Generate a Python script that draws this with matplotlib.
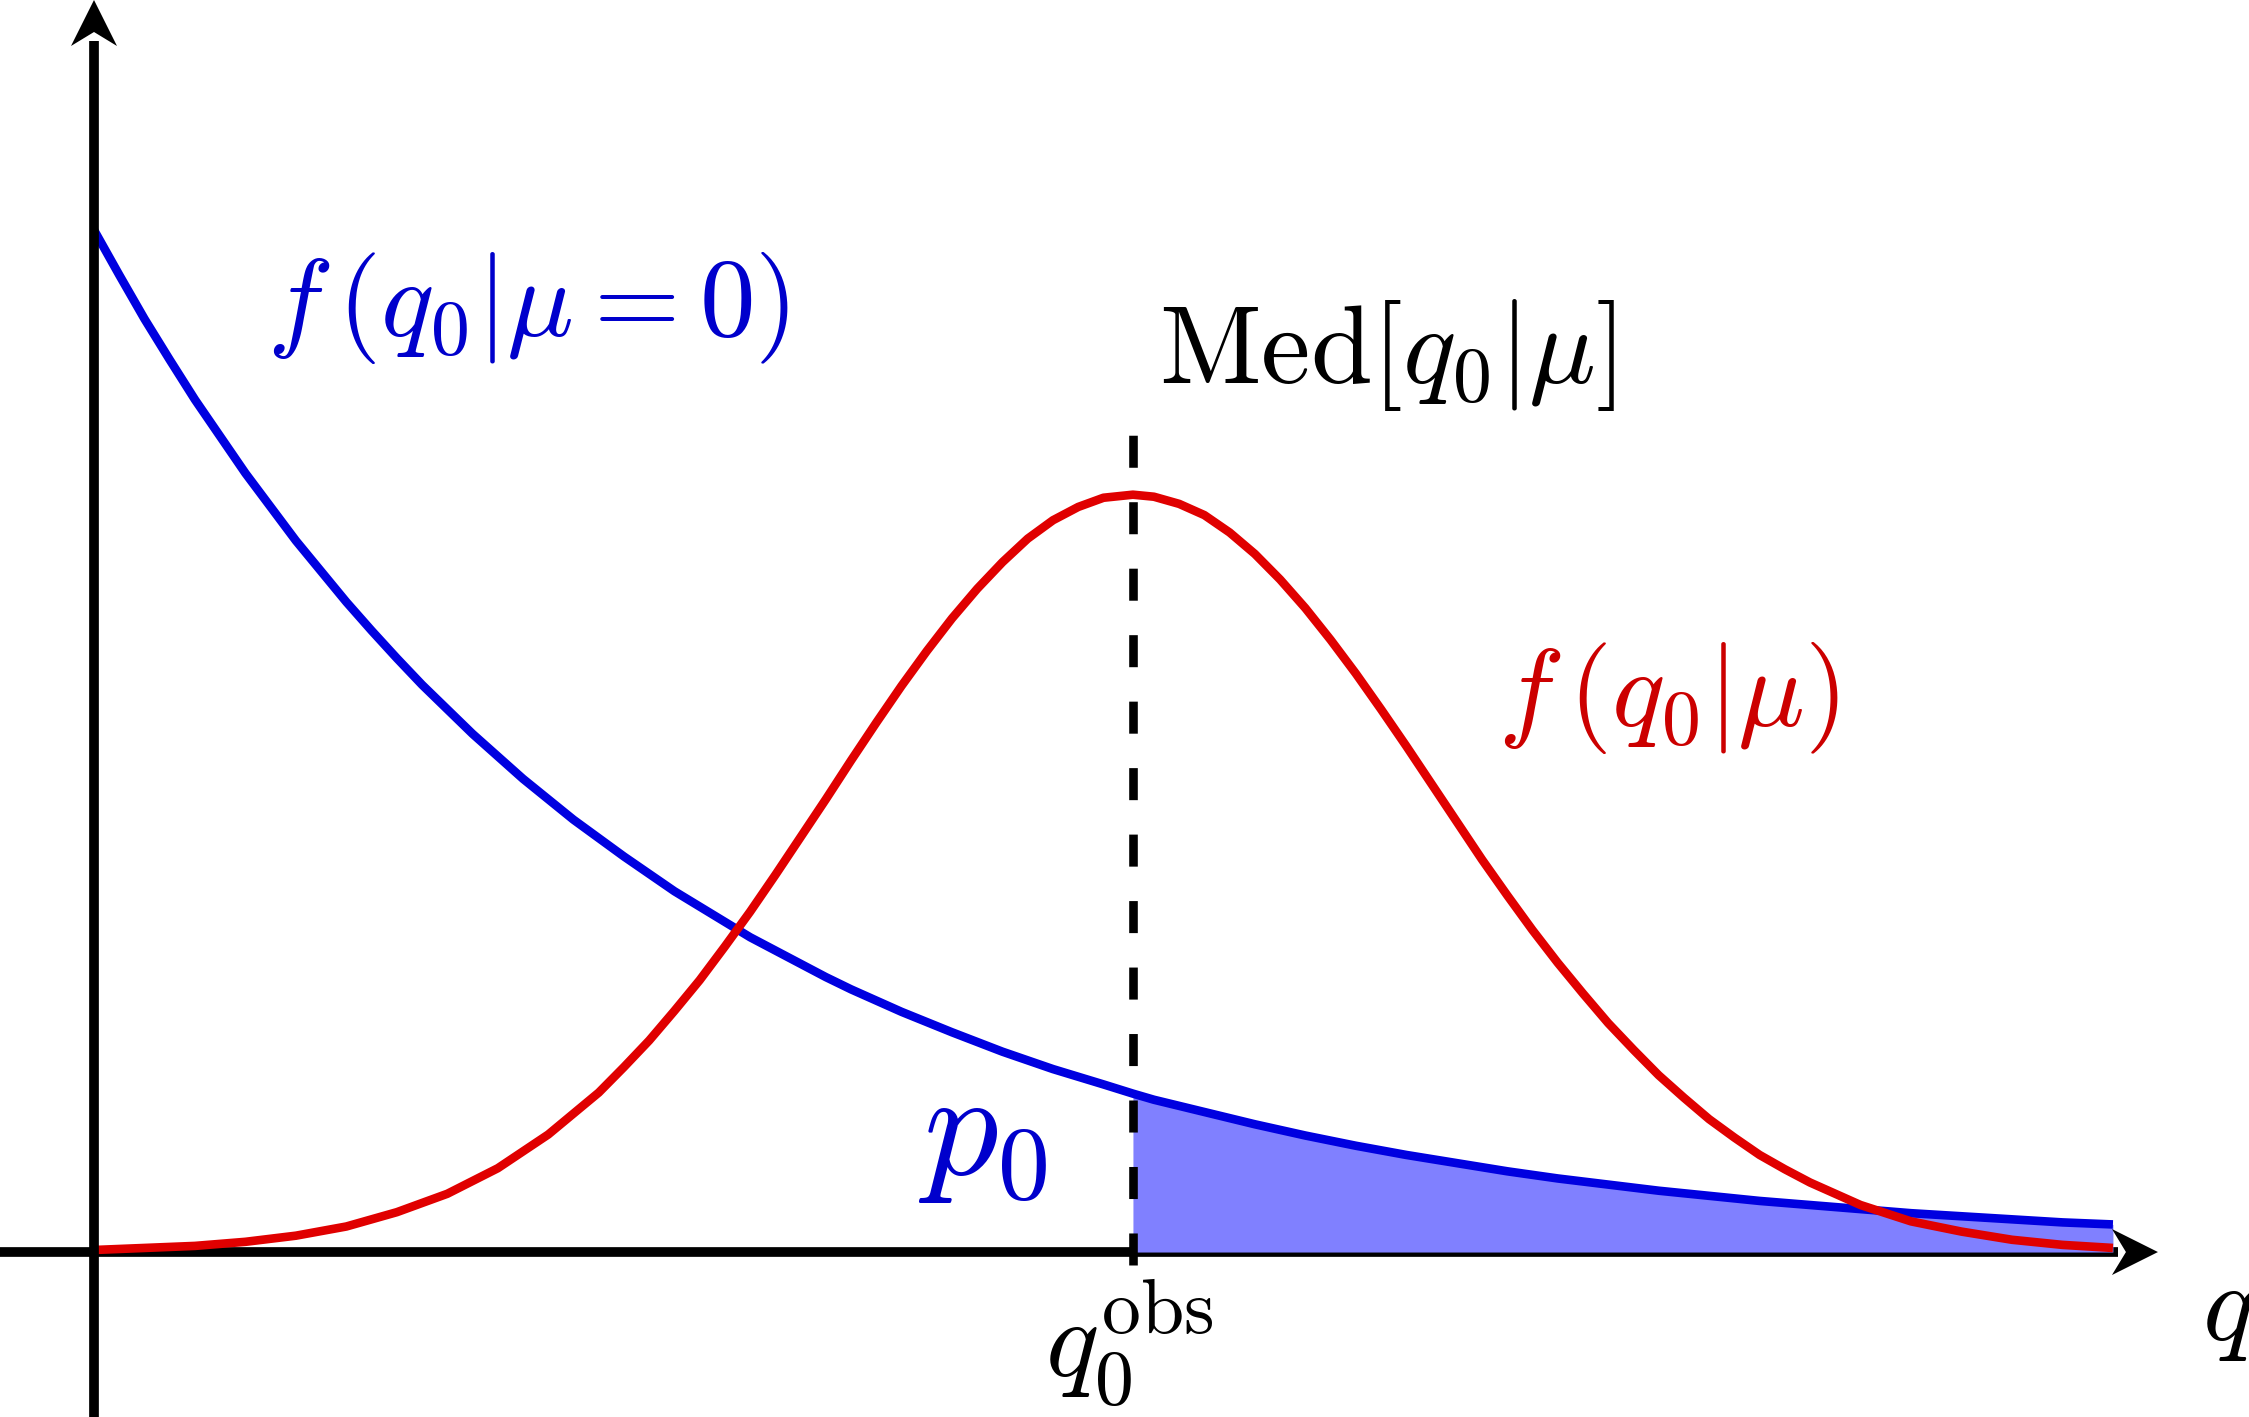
# ---------------------------------------------------------------------------- #
# NEEDED IMPORTS

import matplotlib
matplotlib.use("Agg")
import matplotlib.pyplot as plt
import matplotlib.transforms as mtransforms
from matplotlib.patches import Polygon
import numpy as np

# ---------------------------------------------------------------------------- #
# DATA (q in [0, 10], f normalised to 1 at q = 0)

q0_obs = 5.146

# Blue curve, f(q0 | mu = 0)
blue_q = [0.0, 0.125, 0.25, 0.375, 0.5, 0.625, 0.75, 0.875, 1.0, 1.125, 1.25,
          1.375, 1.5, 1.625, 1.75, 1.875, 2.0, 2.125, 2.25, 2.375, 2.5, 2.625,
          2.75, 2.875, 3.0, 3.125, 3.25, 3.375, 3.5, 3.625, 3.75, 3.875, 4.0,
          4.25, 4.5, 4.75, 5.0, 5.146, 5.25, 5.5, 5.75, 6.0, 6.25, 6.5, 6.75,
          7.0, 7.25, 7.5, 7.75, 8.0, 8.25, 8.5, 8.75, 9.0, 9.25, 9.5, 9.75,
          10.0]
blue_f = [1.000, 0.956, 0.913, 0.873, 0.834, 0.798, 0.762, 0.729, 0.696,
          0.666, 0.636, 0.608, 0.581, 0.555, 0.531, 0.507, 0.485, 0.463,
          0.443, 0.423, 0.405, 0.387, 0.370, 0.353, 0.338, 0.323, 0.308,
          0.295, 0.282, 0.269, 0.257, 0.246, 0.235, 0.215, 0.196, 0.179,
          0.164, 0.155, 0.149, 0.137, 0.125, 0.114, 0.104, 0.095, 0.087,
          0.079, 0.072, 0.066, 0.060, 0.055, 0.050, 0.046, 0.042, 0.038,
          0.035, 0.032, 0.029, 0.027]

# Red curve, f(q0 | mu)
red_q = [0.0, 0.25, 0.5, 0.75, 1.0, 1.25, 1.5, 1.75, 2.0, 2.25, 2.5, 2.625,
         2.75, 2.875, 3.0, 3.125, 3.25, 3.375, 3.5, 3.625, 3.75, 3.875, 4.0,
         4.125, 4.25, 4.375, 4.5, 4.625, 4.75, 4.875, 5.0, 5.146, 5.25, 5.375,
         5.5, 5.625, 5.75, 5.875, 6.0, 6.125, 6.25, 6.375, 6.5, 6.625, 6.75,
         6.875, 7.0, 7.125, 7.25, 7.375, 7.5, 7.625, 7.75, 7.875, 8.0, 8.125,
         8.25, 8.375, 8.5, 8.75, 9.0, 9.25, 9.5, 9.75, 10.0]
red_f = [0.002, 0.004, 0.006, 0.010, 0.016, 0.025, 0.039, 0.057, 0.082,
         0.115, 0.156, 0.181, 0.207, 0.236, 0.266, 0.299, 0.333, 0.369,
         0.406, 0.443, 0.481, 0.518, 0.554, 0.588, 0.620, 0.649, 0.675,
         0.698, 0.716, 0.729, 0.738, 0.741, 0.739, 0.732, 0.721, 0.704,
         0.683, 0.658, 0.630, 0.599, 0.566, 0.531, 0.495, 0.458, 0.421,
         0.384, 0.349, 0.315, 0.283, 0.253, 0.224, 0.198, 0.173, 0.151,
         0.130, 0.112, 0.095, 0.081, 0.068, 0.046, 0.030, 0.020, 0.012,
         0.007, 0.004]

# Labels
label_blue = r"$f\,(q_0|\mu=0)$"
label_red = r"$f\,(q_0|\mu)$"
label_med = r"$\mathrm{Med}[q_0|\mu]$"
label_p0 = r"$p_0$"
label_obs = r"$q_0^{\mathrm{obs}}$"
label_q = r"$q$"

# ---------------------------------------------------------------------------- #
# FIGURE SETUP

plt.rcParams['mathtext.fontset'] = 'cm'

blue_line = '#0000e0'
red_line = '#e00000'
blue_text = '#0000cc'
red_text = '#cc0000'
fill_col = '#8080ff'

fig = plt.figure(figsize=(22.49, 14.17), dpi=100)
ax = fig.add_axes([0, 0, 1, 1])
ax.set_xlim(-0.4656, 10.674)
ax.set_ylim(-0.1614, 1.225)
ax.axis('off')

# ---------------------------------------------------------------------------- #
# AXES WITH ARROWS

x_tip = 10.223
y_tip = 1.225
ax.plot([-0.4656, x_tip - 0.2], [0, 0], color='black', lw=7,
        solid_capstyle='butt', zorder=1)
ax.plot([0, 0], [-0.1614, y_tip - 0.04], color='black', lw=7,
        solid_capstyle='butt', zorder=6)

# stealth-like arrow heads, sizes in inches around the tip
head_x = [(0, 0), (-0.46, 0.23), (-0.32, 0), (-0.46, -0.23)]
head_y = [(0, 0), (0.23, -0.46), (0, -0.32), (-0.23, -0.46)]
for verts, tip in [(head_x, (x_tip, 0)), (head_y, (0, y_tip))]:
    tr = fig.dpi_scale_trans + mtransforms.ScaledTranslation(tip[0], tip[1],
                                                             ax.transData)
    ax.add_patch(Polygon(verts, closed=True, transform=tr, color='black',
                         lw=0, zorder=7))

# ---------------------------------------------------------------------------- #
# CURVES AND SHADED P-VALUE

bq = np.array(blue_q)
bf = np.array(blue_f)
mask = bq >= q0_obs
ax.fill_between(bq[mask], 0, bf[mask], color=fill_col, lw=0, zorder=2)

# Dashed median line (pattern starts below the axis)
ax.plot([q0_obs, q0_obs], [-0.0127, 0.799], color='black', lw=6.2,
        linestyle=(0, (3.72, 4.0)), dash_capstyle='butt', zorder=3)

ax.plot(blue_q, blue_f, color=blue_line, lw=6.2, solid_capstyle='butt',
        solid_joinstyle='round', zorder=4)
ax.plot(red_q, red_f, color=red_line, lw=6.2, solid_capstyle='butt',
        solid_joinstyle='round', zorder=5)

# ---------------------------------------------------------------------------- #
# LABELS

ax.text(2.151, 0.896, label_blue, color=blue_text, fontsize=80,
        ha='center', va='baseline')
ax.text(7.801, 0.515, label_red, color=red_text, fontsize=80,
        ha='center', va='baseline')
ax.text(6.407, 0.850, label_med, color='black', fontsize=80,
        ha='center', va='baseline')
ax.text(4.403, 0.076, label_p0, color=blue_text, fontsize=107,
        ha='center', va='baseline')
ax.text(5.129, -0.123, label_obs, color='black', fontsize=80,
        ha='center', va='baseline')
ax.text(10.441, -0.086, label_q, color='black', fontsize=80,
        ha='left', va='baseline')

fig.savefig("out.png", dpi=100)

# end of file #
